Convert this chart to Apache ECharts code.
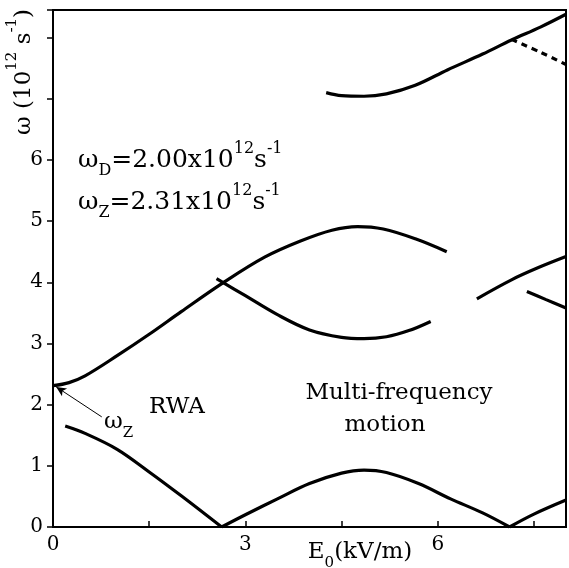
<!DOCTYPE html>
<html><head><meta charset="utf-8">
<script src="https://cdn.jsdelivr.net/npm/echarts@6/dist/echarts.min.js"></script>
<style>html,body{margin:0;padding:0;background:#fff}#c{width:569px;height:568px}</style>
</head><body><div id="c"></div>
<script>
// tick labels
var xTickLabels = [0, 3, 6];
var yTickLabels = [0, 1, 2, 3, 4, 5, 6];
// branches [E0, omega]
var upperBranch = [[0,2.31],[0.25,2.36],[0.5,2.47],[1.0,2.80],[1.5,3.15],[2.0,3.52],[2.65,3.99],[3.3,4.41],[3.85,4.67],[4.35,4.85],[4.75,4.91],[5.15,4.87],[5.65,4.71],[6.14,4.50]];
var middleBranch = [[2.55,4.06],[3.0,3.78],[3.5,3.47],[4.0,3.22],[4.5,3.10],[4.85,3.08],[5.2,3.11],[5.55,3.21],[5.89,3.36]];
var lowerA = [[0.19,1.65],[0.5,1.53],[1.0,1.27],[1.5,0.90],[2.0,0.51],[2.63,0]];
var lowerB = [[2.63,0],[3.0,0.2],[3.5,0.46],[4.0,0.71],[4.5,0.88],[4.85,0.93],[5.2,0.89],[5.7,0.71],[6.2,0.46],[6.7,0.23],[7.12,0]];
var lowerC = [[7.12,0],[7.5,0.21],[8,0.44]];
var topBranch = [[4.26,7.10],[4.5,7.05],[4.85,7.04],[5.2,7.08],[5.65,7.22],[6.15,7.47],[6.7,7.73],[7.15,7.96],[7.6,8.17],[8,8.38]];
var topDashed = [[7.15,7.97],[7.6,7.76],[8,7.56]];
var rightUpper = [[6.61,3.73],[7.15,4.04],[7.57,4.24],[8,4.42]];
var rightLower = [[7.39,3.85],[7.68,3.72],[8,3.58]];
var arrowTail = [0.76, 1.80];
var arrowHead = [0.05, 2.29];

var FONT = '"DejaVu Serif", "Liberation Serif", serif';
function curve(d, dashed) {
  return {type:'line', data:d, smooth:0.35, showSymbol:false, symbol:'none', silent:true,
    lineStyle:{color:'#000', width:3.2, type: dashed ? [6,5] : 'solid', cap:'butt'}};
}
var chart = echarts.init(document.getElementById('c'));
function richSet(size, small) {
  return {
    a:{fontFamily: FONT, fontSize: size, lineHeight: 38, verticalAlign:'middle'},
    s:{fontFamily: FONT, fontSize: small, lineHeight: 38, verticalAlign:'bottom'},
    p:{fontFamily: FONT, fontSize: small, lineHeight: 38, verticalAlign:'top'}
  };
}
var richT = richSet(23, 15);
var richW = richSet(25, 16);
chart.setOption({
  animation:false,
  grid:{left:53, right:2, top:10, bottom:41, show:true, borderColor:'#000', borderWidth:2},
  xAxis:{type:'value', min:0, max:8, interval:1.5,
    axisLine:{show:true, onZero:false, lineStyle:{color:'#000', width:2}},
    axisTick:{show:true, inside:true, length:6, lineStyle:{color:'#000', width:1.5}},
    axisLabel:{color:'#000', fontFamily:FONT, fontSize:20, margin:8,
      formatter:function(v){return xTickLabels.indexOf(v)>=0 ? String(v) : '';}},
    splitLine:{show:false}},
  yAxis:{type:'value', min:0, max:8.45, interval:1,
    axisLine:{show:true, lineStyle:{color:'#000', width:2}},
    axisTick:{show:true, inside:false, length:6, lineStyle:{color:'#000', width:1.5}},
    axisLabel:{color:'#000', fontFamily:FONT, fontSize:20, margin:10,
      formatter:function(v){return yTickLabels.indexOf(v)>=0 ? String(v) : '';}},
    splitLine:{show:false}},
  series:[
    curve(upperBranch), curve(middleBranch), curve(lowerA), curve(lowerB), curve(lowerC),
    curve(topBranch), curve(topDashed, true), curve(rightUpper), curve(rightLower),
    {type:'line', data:[], silent:true,
      markLine:{silent:true, symbol:['none','arrow'], symbolSize:[7,10], label:{show:false},
        lineStyle:{color:'#000', width:1, type:'solid'},
        data:[[{coord:arrowTail},{coord:arrowHead}]]}}
  ],
  graphic:[
    {type:'text', x:78, y:160, style:{text:'{a|ω}{s|D}{a|=2.00x10}{p|12}{a|s}{p|-1}', rich:richW, fill:'#000', textVerticalAlign:'middle'}},
    {type:'text', x:78, y:202, style:{text:'{a|ω}{s|Z}{a|=2.31x10}{p|12}{a|s}{p|-1}', rich:richW, fill:'#000', textVerticalAlign:'middle'}},
    {type:'text', x:104, y:422, style:{text:'{a|ω}{s|Z}', rich:richT, fill:'#000', textVerticalAlign:'middle'}},
    {type:'text', x:149, y:407, style:{text:'RWA', font:'23px '+FONT, fill:'#000', textVerticalAlign:'middle'}},
    {type:'text', x:399, y:393, style:{text:'Multi-frequency', font:'23px '+FONT, fill:'#000', textAlign:'center', textVerticalAlign:'middle'}},
    {type:'text', x:385, y:425, style:{text:'motion', font:'23px '+FONT, fill:'#000', textAlign:'center', textVerticalAlign:'middle'}},
    {type:'text', x:360, y:552, style:{text:'{a|E}{s|0}{a|(kV/m)}', rich:richT, fill:'#000', textAlign:'center', textVerticalAlign:'middle'}},
    {type:'text', x:24, y:72, rotation:Math.PI/2, style:{text:'{a|ω (10}{p|12}{a| s}{p|-1}{a|)}', rich:richT, fill:'#000', textAlign:'center', textVerticalAlign:'middle'}}
  ]
});
</script></body></html>
